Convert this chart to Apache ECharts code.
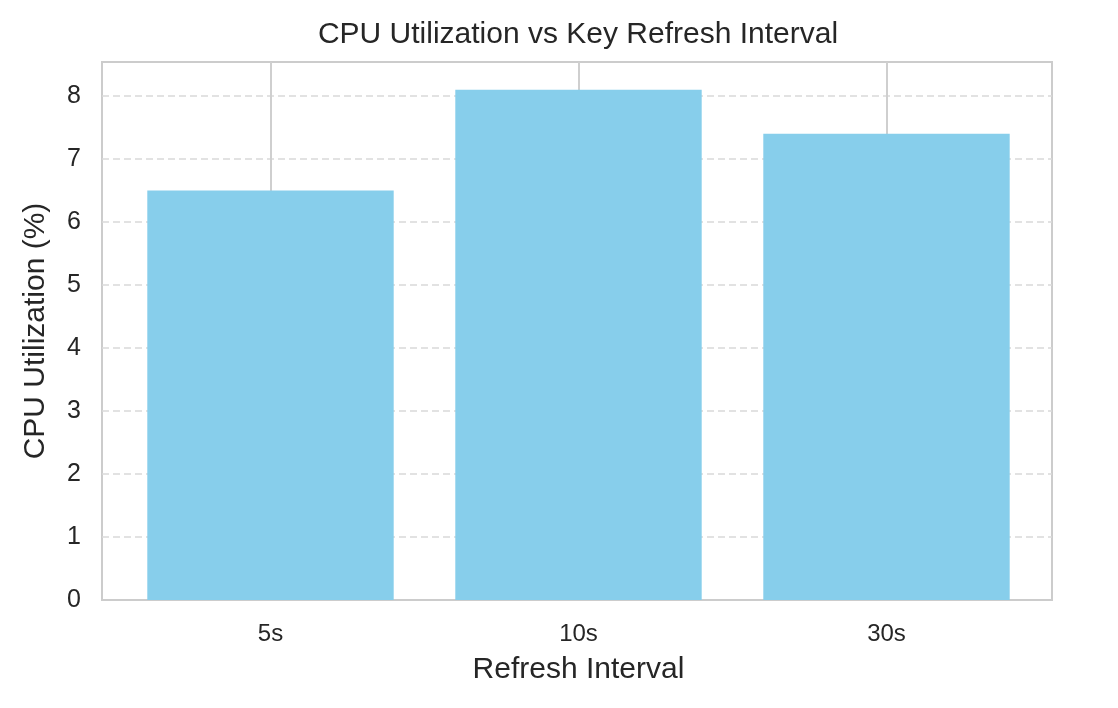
<!DOCTYPE html>
<html>
<head>
<meta charset="utf-8">
<script src="https://cdn.jsdelivr.net/npm/echarts@6/dist/echarts.min.js"></script>
<style>
  html, body { margin: 0; padding: 0; background: #ffffff; }
  #chart { width: 1118px; height: 708px; }
</style>
</head>
<body>
<div id="chart"></div>
<script>
const categories = ['5s', '10s', '30s'];
const cpuValues = [6.5, 8.1, 7.4];
const yMin = 0;
const yMax = 8.54;
const yInterval = 1;

const FONT = "'Liberation Sans', Arial, sans-serif";
const TEXT = '#262626';

const chart = echarts.init(document.getElementById('chart'), null, { renderer: 'canvas' });

const option = {
  backgroundColor: '#ffffff',
  animation: false,
  textStyle: { fontFamily: FONT, color: TEXT },
  title: {
    text: 'CPU Utilization vs Key Refresh Interval',
    left: 578,
    top: 20,
    padding: 0,
    textAlign: 'center',
    textStyle: { fontFamily: FONT, fontSize: 30, fontWeight: 'normal', color: TEXT }
  },
  grid: [
    { // frame + y axis
      left: 102, right: 66, top: 62, bottom: 108,
      show: true, borderColor: '#cccccc', borderWidth: 2,
      backgroundColor: 'transparent', containLabel: false
    },
    { // bars, category centres
      left: 270.5, right: 231.5, top: 62, bottom: 108,
      show: false, containLabel: false
    }
  ],
  xAxis: [
    { gridIndex: 0, type: 'value', show: false, min: 0, max: 1 },
    {
      gridIndex: 1,
      type: 'category',
      data: categories,
      boundaryGap: false,
      name: 'Refresh Interval',
      nameLocation: 'middle',
      nameGap: 55,
      nameTextStyle: { fontFamily: FONT, fontSize: 30, color: TEXT },
      axisLine: { show: false },
      axisTick: { show: false },
      axisLabel: { fontFamily: FONT, fontSize: 24, color: TEXT, margin: 22 },
      splitLine: { show: true, lineStyle: { color: '#cfcfcf', width: 2, type: 'solid' } }
    }
  ],
  yAxis: [
    {
      gridIndex: 0,
      type: 'value',
      min: yMin,
      max: yMax,
      interval: yInterval,
      name: 'CPU Utilization (%)',
      nameLocation: 'middle',
      nameGap: 51,
      nameTextStyle: { fontFamily: FONT, fontSize: 30, color: TEXT },
      axisLine: { show: false },
      axisTick: { show: false },
      axisLabel: {
        fontFamily: FONT, fontSize: 25, color: TEXT, margin: 21,
        showMaxLabel: false,
        formatter: function (v) { return Number.isInteger(v) ? String(v) : ''; }
      },
      splitLine: {
        show: true, showMinLine: false, showMaxLine: false,
        lineStyle: { color: '#d9d9d9', width: 1.5, type: [7, 4] }
      }
    },
    { gridIndex: 1, type: 'value', min: yMin, max: yMax, show: false, splitLine: { show: false } }
  ],
  series: [
    {
      type: 'bar',
      xAxisIndex: 1,
      yAxisIndex: 1,
      data: cpuValues,
      barWidth: '80%',
      clip: false,
      itemStyle: { color: '#87CEEB' },
      z: 3
    }
  ]
};

chart.setOption(option);
</script>
</body>
</html>
